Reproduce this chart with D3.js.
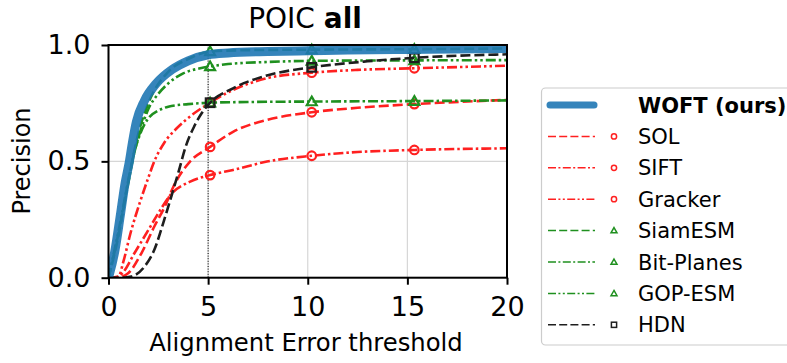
<!DOCTYPE html>
<html>
<head>
<meta charset="utf-8">
<script src="https://cdn.jsdelivr.net/npm/d3@7"></script>
<style>
  body { margin: 0; background: #fff; }
  text { font-family: "DejaVu Sans", sans-serif; fill: #000; }
</style>
</head>
<body>
<script>
// Values
var markAt = [5.1, 10.2, 15.35];

var woftX = [0, 0.33, 0.58, 0.83, 1.05, 1.2, 1.4, 1.8, 2.4, 3.2, 4, 5, 6, 8, 10, 12, 15, 20];
var woftY = [0, 0.12, 0.26, 0.405, 0.5, 0.58, 0.67, 0.76, 0.835, 0.895, 0.932, 0.958, 0.966, 0.972, 0.975, 0.978, 0.981, 0.985];

var solX = [0, 0.5, 1.0, 1.65, 2.3, 2.85, 3.25, 4.1, 5.1, 6.25, 7.95, 10.2, 12.5, 15.35, 20];
var solY = [0, 0.002, 0.02, 0.105, 0.22, 0.31, 0.39, 0.5, 0.562, 0.627, 0.678, 0.711, 0.73, 0.746, 0.764];

var siftX = [0, 0.4, 0.7, 1.3, 2.0, 2.5, 3.1, 4.1, 5.1, 6.25, 7.95, 10.2, 12.5, 15.35, 20];
var siftY = [0, 0.002, 0.02, 0.105, 0.205, 0.277, 0.355, 0.413, 0.441, 0.463, 0.499, 0.524, 0.54, 0.549, 0.556];

var grackerX = [0, 0.5, 0.75, 1.1, 1.6, 2.0, 2.3, 2.8, 3.4, 4.2, 5.1, 6.25, 7.95, 10.2, 12.5, 15.35, 20];
var grackerY = [0, 0.005, 0.07, 0.19, 0.33, 0.43, 0.5, 0.58, 0.64, 0.70, 0.752, 0.807, 0.857, 0.881, 0.893, 0.90, 0.911];

var siamX = [0, 0.5, 1, 1.5, 2, 3, 4, 5.1, 7, 10.2, 15.35, 20];
var siamY = [0, 0.18, 0.42, 0.62, 0.75, 0.885, 0.94, 0.972, 0.978, 0.98, 0.982, 0.985];

var bitX = [0, 0.5, 1, 1.3, 1.6, 2, 2.5, 3, 4, 5.1, 7, 10.2, 15.35, 20];
var bitY = [0, 0.19, 0.41, 0.54, 0.62, 0.685, 0.718, 0.735, 0.746, 0.752, 0.755, 0.757, 0.759, 0.762];

var gopX = [0, 0.5, 1, 1.3, 1.6, 2, 2.5, 3, 3.75, 4.6, 5.1, 6, 8, 10.2, 15.35, 20];
var gopY = [0, 0.2, 0.42, 0.54, 0.63, 0.725, 0.79, 0.835, 0.878, 0.90, 0.908, 0.918, 0.927, 0.932, 0.934, 0.935];

var hdnX = [0, 0.7, 1.15, 1.8, 2.3, 2.8, 3.1, 3.5, 3.9, 4.3, 4.7, 5.1, 6.25, 8, 10.2, 13, 15.35, 20];
var hdnY = [0, 0, 0.005, 0.047, 0.12, 0.25, 0.334, 0.45, 0.57, 0.65, 0.71, 0.752, 0.814, 0.87, 0.904, 0.93, 0.945, 0.96];

var xTicks = [0, 5, 10, 15, 20];
var yTicks = [0, 0.5, 1];

// Series list (drawing order), styles kept here and not in the data arrays
var red = "#ff2020", green = "#1f901f", black = "#1e1e1e";
var series = [
  {name: "SOL", x: solX, y: solY, color: red, dash: "10,4", marker: "circle"},
  {name: "SIFT", x: siftX, y: siftY, color: red, dash: "10,3,2.5,3", marker: "circle"},
  {name: "Gracker", x: grackerX, y: grackerY, color: red, dash: "10,3,2.5,3,2.5,3", marker: "circle"},
  {name: "SiamESM", x: siamX, y: siamY, color: green, dash: "10,4", marker: "triangle"},
  {name: "Bit-Planes", x: bitX, y: bitY, color: green, dash: "10,3,2.5,3", marker: "triangle"},
  {name: "GOP-ESM", x: gopX, y: gopY, color: green, dash: "10,3,2.5,3,2.5,3", marker: "triangle"},
  {name: "HDN", x: hdnX, y: hdnY, color: black, dash: "10,4", marker: "square"}
];

var svgWidth = 787, svgHeight = 363;
var margin = {top: 45, left: 108.5};
var width = 398.5, height = 232.7;

var svg = d3.select("body").append("svg")
  .attr("width", svgWidth)
  .attr("height", svgHeight);

var chartGroup = svg.append("g")
  .attr("transform", `translate(${margin.left}, ${margin.top})`);

var xScale = d3.scaleLinear().domain([0, 20]).range([0, width]);
var yScale = d3.scaleLinear().domain([0, 1]).range([height, 0]);

// grid
chartGroup.selectAll(".vgrid").data(xTicks).enter().append("line")
  .attr("x1", d => xScale(d)).attr("x2", d => xScale(d))
  .attr("y1", 0).attr("y2", height)
  .attr("stroke", "#d6d6d6").attr("stroke-width", 1.2);
chartGroup.selectAll(".hgrid").data(yTicks).enter().append("line")
  .attr("x1", 0).attr("x2", width)
  .attr("y1", d => yScale(d)).attr("y2", d => yScale(d))
  .attr("stroke", "#d6d6d6").attr("stroke-width", 1.2);

// dotted marker line at threshold 5
chartGroup.append("line")
  .attr("x1", xScale(5)).attr("x2", xScale(5))
  .attr("y1", 0).attr("y2", height)
  .attr("stroke", "#000").attr("stroke-width", 1)
  .attr("stroke-dasharray", "1,1.6");

var clip = svg.append("clipPath").attr("id", "plotclip")
  .append("rect").attr("x", 0).attr("y", -6).attr("width", width).attr("height", height + 6);

var line = d3.line()
  .x(d => xScale(d[0]))
  .y(d => yScale(d[1]))
  .curve(d3.curveMonotoneX);

var plot = chartGroup.append("g").attr("clip-path", "url(#plotclip)");

function drawMarker(g, type, cx, cy, size, color, sw) {
  if (type === "circle") {
    g.append("circle").attr("cx", cx).attr("cy", cy).attr("r", size)
      .attr("fill", "none").attr("stroke", color).attr("stroke-width", sw);
  } else if (type === "square") {
    g.append("rect").attr("x", cx - size).attr("y", cy - size)
      .attr("width", size * 2).attr("height", size * 2)
      .attr("fill", "none").attr("stroke", color).attr("stroke-width", sw);
  } else {
    var s = size * 1.15;
    g.append("path")
      .attr("d", `M${cx},${cy - s}L${cx + s},${cy + s * 0.75}L${cx - s},${cy + s * 0.75}Z`)
      .attr("fill", "none").attr("stroke", color).attr("stroke-width", sw);
  }
}

series.forEach(function(s) {
  var pts = s.x.map((v, i) => [v, s.y[i]]);
  plot.append("path")
    .datum(pts)
    .attr("d", line)
    .attr("fill", "none")
    .attr("stroke", s.color)
    .attr("stroke-width", 2.6)
    .attr("stroke-dasharray", s.dash);
  pts.filter(p => markAt.indexOf(p[0]) >= 0).forEach(function(p) {
    drawMarker(plot, s.marker, xScale(p[0]), yScale(p[1]), 4.3, s.color, 2.2);
  });
});

// WOFT on top, thick
plot.append("path")
  .datum(woftX.map((v, i) => [v, woftY[i]]))
  .attr("d", line)
  .attr("fill", "none")
  .attr("stroke", "#1f77b4")
  .attr("stroke-opacity", 0.9)
  .attr("stroke-width", 9)
  .attr("stroke-linecap", "round")
  .attr("stroke-linejoin", "round");

// axes
var xAxis = d3.axisBottom(xScale).tickValues(xTicks).tickFormat(d3.format("d"))
  .tickSize(7).tickPadding(12);
var yAxis = d3.axisLeft(yScale).tickValues(yTicks).tickFormat(d3.format(".1f"))
  .tickSize(7).tickPadding(11);

var xg = chartGroup.append("g").attr("transform", `translate(0, ${height})`).call(xAxis);
var yg = chartGroup.append("g").call(yAxis);
[xg, yg].forEach(function(g) {
  g.select(".domain").remove();
  g.selectAll(".tick line").attr("stroke", "#000").attr("stroke-width", 2);
  g.selectAll(".tick text").style("font-size", "27px").style("font-family", "DejaVu Sans").attr("fill", "#000");
});

// frame
chartGroup.append("rect")
  .attr("width", width).attr("height", height)
  .attr("fill", "none").attr("stroke", "#000").attr("stroke-width", 2);

// titles
var title = svg.append("text")
  .attr("x", 305).attr("y", 28)
  .attr("text-anchor", "middle")
  .style("font-size", "28px");
title.append("tspan").text("POIC ");
title.append("tspan").attr("font-weight", "bold").text("all");

svg.append("text")
  .attr("x", 306).attr("y", 351)
  .attr("text-anchor", "middle")
  .style("font-size", "24.3px")
  .text("Alignment Error threshold");

svg.append("text")
  .attr("transform", "rotate(-90)")
  .attr("x", -161).attr("y", 30)
  .attr("text-anchor", "middle")
  .style("font-size", "24px")
  .text("Precision");

// legend
var legend = svg.append("g");
legend.append("rect")
  .attr("x", 541.5).attr("y", 88).attr("width", 270).attr("height", 257)
  .attr("rx", 4)
  .attr("fill", "#fff").attr("fill-opacity", 0.8)
  .attr("stroke", "#cccccc").attr("stroke-width", 1.2);

var rowY = d => 105 + d * 31.4;

legend.append("line")
  .attr("x1", 550).attr("x2", 594).attr("y1", rowY(0)).attr("y2", rowY(0))
  .attr("stroke", "#1f77b4").attr("stroke-opacity", 0.9)
  .attr("stroke-width", 7).attr("stroke-linecap", "round");
legend.append("text")
  .attr("x", 638).attr("y", rowY(0)).attr("dy", "0.36em")
  .attr("font-weight", "bold").style("font-size", "21px")
  .text("WOFT (ours)");

series.forEach(function(s, i) {
  var y = rowY(i + 1);
  legend.append("line")
    .attr("x1", 548).attr("x2", 595).attr("y1", y).attr("y2", y)
    .attr("stroke", s.color).attr("stroke-width", 1.5)
    .attr("stroke-dasharray", s.dash.split(",").map(v => v * 0.8).join(","));
  drawMarker(legend, s.marker, 614, y, 2.6, s.color, 1.5);
  legend.append("text")
    .attr("x", 638).attr("y", y).attr("dy", "0.36em")
    .style("font-size", "21px")
    .text(s.name);
});
</script>
</body>
</html>
